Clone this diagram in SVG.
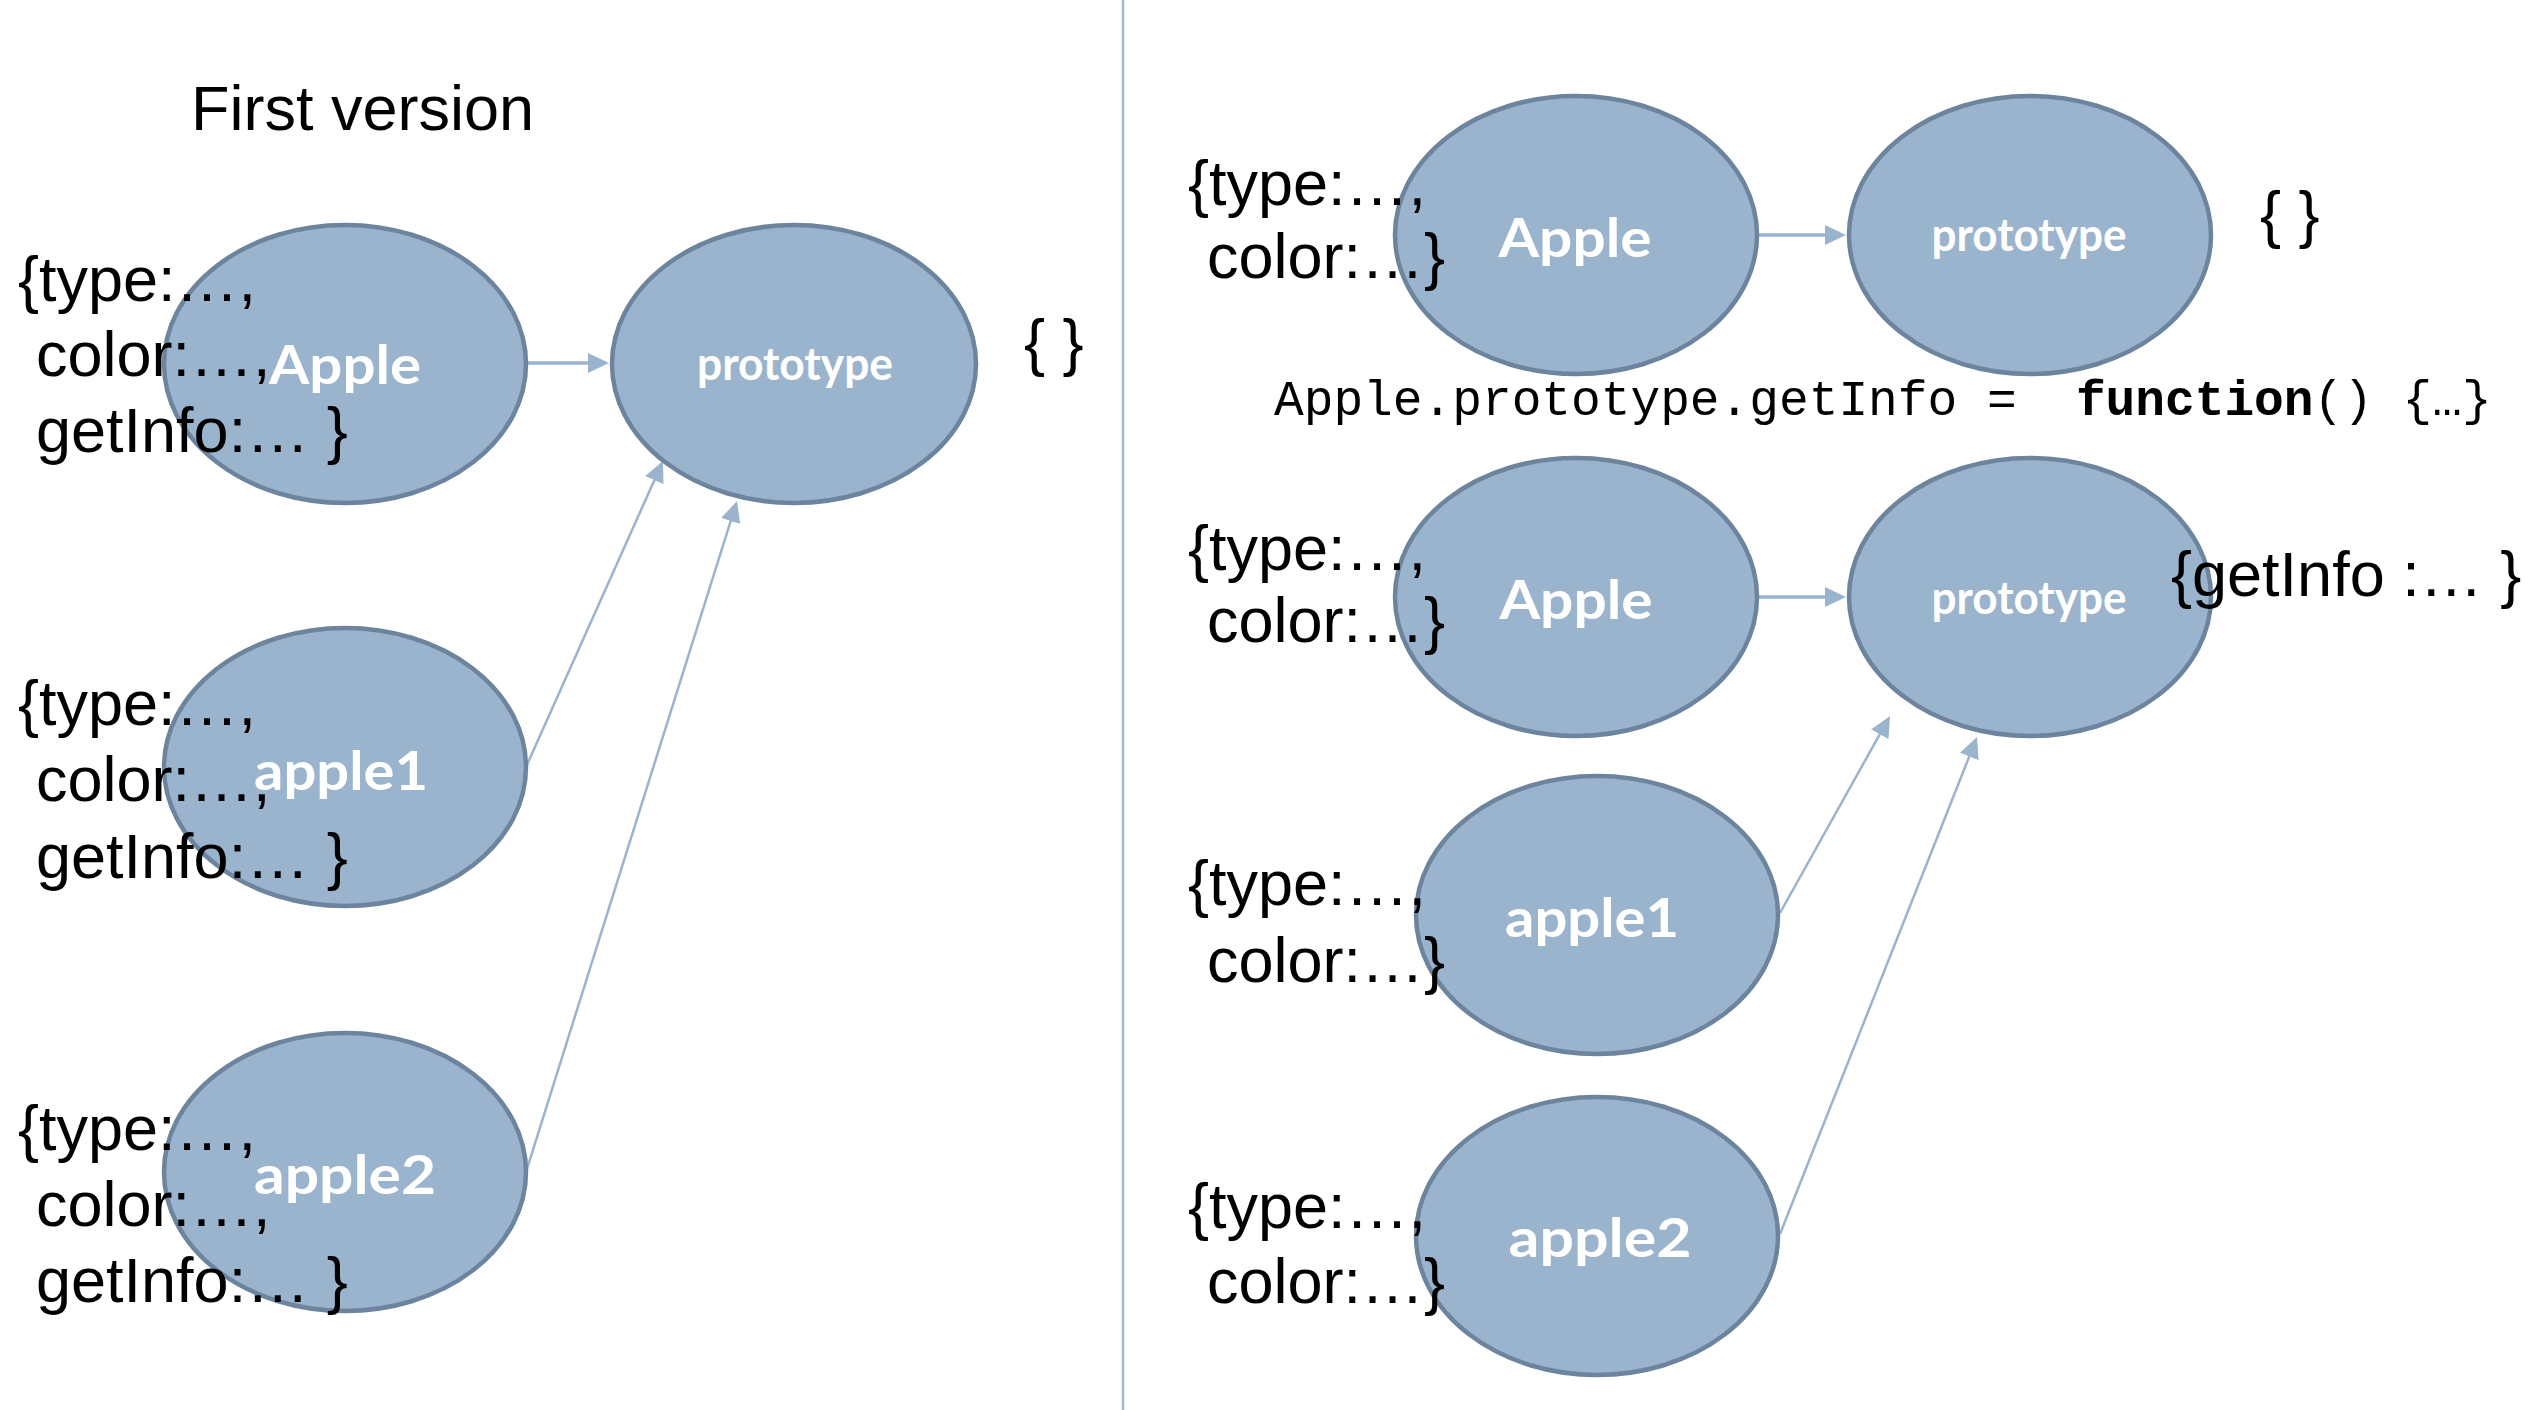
<svg xmlns="http://www.w3.org/2000/svg" width="2530" height="1410" viewBox="0 0 2530 1410">
<style>
.node{fill:#9BB4CD;stroke:#6D849E;stroke-width:4.5}
.lbl{fill:#FFFFFF;font-family:"Lato","Noto Sans",sans-serif;font-weight:bold;text-anchor:middle}
.big{font-size:54px}
.small{font-size:46px}
.txt{fill:#000000;font-family:"Liberation Sans",Arial,sans-serif;font-size:63px}
.code{fill:#000000;font-family:"Liberation Mono","Courier New",monospace;font-size:49.5px}
.conn{stroke:#9BB4CD;fill:none}
.h{stroke-width:3.3}
.d{stroke-width:2.5}
</style>
<defs>
<marker id="ah" markerUnits="userSpaceOnUse" markerWidth="21" markerHeight="20" refX="15" refY="10" orient="auto" viewBox="0 0 21 20">
<path d="M0,0 L21,10 L0,20 z" fill="#9BB4CD"/>
</marker>
</defs>
<rect width="2530" height="1410" fill="#FFFFFF"/>
<line x1="1123" y1="0" x2="1123" y2="1410" stroke="#A3B8CF" stroke-width="2.5"/>
<text class="txt" x="191" y="130">First version</text>

<g id="connectors">
<line class="conn h" x1="525" y1="363" x2="603" y2="363" marker-end="url(#ah)"/>
<line class="conn d" x1="526" y1="767" x2="660.5" y2="466.5" marker-end="url(#ah)"/>
<line class="conn d" x1="526" y1="1172" x2="735.2" y2="506.7" marker-end="url(#ah)"/>
<line class="conn h" x1="1759" y1="235" x2="1840" y2="235" marker-end="url(#ah)"/>
<line class="conn h" x1="1759" y1="597" x2="1840" y2="597" marker-end="url(#ah)"/>
<line class="conn d" x1="1780" y1="913" x2="1887.1" y2="721.2" marker-end="url(#ah)"/>
<line class="conn d" x1="1780" y1="1234" x2="1974.8" y2="742.6" marker-end="url(#ah)"/>
</g>

<g id="node-apple-left">
<ellipse class="node" cx="345" cy="364" rx="181" ry="139"/>
<text class="lbl big" x="345" y="384" textLength="152" lengthAdjust="spacingAndGlyphs">Apple</text>
<text class="txt" x="18" y="301">{type:…,</text>
<text class="txt" x="36" y="376">color:…,</text>
<text class="txt" x="36" y="452">getInfo:… }</text>
</g>

<g id="node-prototype-left">
<ellipse class="node" cx="794" cy="364" rx="182" ry="139"/>
<text class="lbl small" x="795" y="380" textLength="196" lengthAdjust="spacingAndGlyphs">prototype</text>
<text class="txt" x="1024" y="364">{ }</text>
</g>

<g id="node-apple1-left">
<ellipse class="node" cx="345" cy="767" rx="181" ry="139"/>
<text class="lbl big" x="341" y="790" textLength="174" lengthAdjust="spacingAndGlyphs">apple1</text>
<text class="txt" x="18" y="725">{type:…,</text>
<text class="txt" x="36" y="801">color:…,</text>
<text class="txt" x="36" y="878">getInfo:… }</text>
</g>

<g id="node-apple2-left">
<ellipse class="node" cx="345" cy="1172" rx="181" ry="139"/>
<text class="lbl big" x="345" y="1194" textLength="182" lengthAdjust="spacingAndGlyphs">apple2</text>
<text class="txt" x="18" y="1150">{type:…,</text>
<text class="txt" x="36" y="1226">color:…,</text>
<text class="txt" x="36" y="1302">getInfo:… }</text>
</g>

<g id="node-apple-right-1">
<ellipse class="node" cx="1576" cy="235" rx="181" ry="139"/>
<text class="lbl big" x="1575" y="257" textLength="153" lengthAdjust="spacingAndGlyphs">Apple</text>
<text class="txt" x="1188" y="205">{type:…,</text>
<text class="txt" x="1207" y="278">color:…}</text>
</g>

<g id="node-prototype-right-1">
<ellipse class="node" cx="2030" cy="235" rx="181" ry="139"/>
<text class="lbl small" x="2029" y="251" textLength="195" lengthAdjust="spacingAndGlyphs">prototype</text>
<text class="txt" x="2260" y="236">{ }</text>
</g>

<g id="code-line">
<text class="code" y="415"><tspan x="1274">Apple.prototype.getInfo =</tspan><tspan x="2075.9" font-weight="bold">function</tspan><tspan x="2313.5">()</tspan><tspan x="2402.6">{…}</tspan></text>
</g>

<g id="node-apple-right-2">
<ellipse class="node" cx="1576" cy="597" rx="181" ry="139"/>
<text class="lbl big" x="1576" y="619" textLength="153" lengthAdjust="spacingAndGlyphs">Apple</text>
<text class="txt" x="1188" y="570">{type:…,</text>
<text class="txt" x="1207" y="642">color:…}</text>
</g>

<g id="node-prototype-right-2">
<ellipse class="node" cx="2030" cy="597" rx="181" ry="139"/>
<text class="lbl small" x="2029" y="614" textLength="195" lengthAdjust="spacingAndGlyphs">prototype</text>
<text class="txt" x="2171" y="596">{getInfo :… }</text>
</g>

<g id="node-apple1-right">
<ellipse class="node" cx="1597" cy="915" rx="181" ry="139"/>
<text class="lbl big" x="1592" y="937" textLength="174" lengthAdjust="spacingAndGlyphs">apple1</text>
<text class="txt" x="1188" y="905">{type:…,</text>
<text class="txt" x="1207" y="982">color:…}</text>
</g>

<g id="node-apple2-right">
<ellipse class="node" cx="1597" cy="1236" rx="181" ry="139"/>
<text class="lbl big" x="1600" y="1257" textLength="183" lengthAdjust="spacingAndGlyphs">apple2</text>
<text class="txt" x="1188" y="1228">{type:…,</text>
<text class="txt" x="1207" y="1303">color:…}</text>
</g>
</svg>
